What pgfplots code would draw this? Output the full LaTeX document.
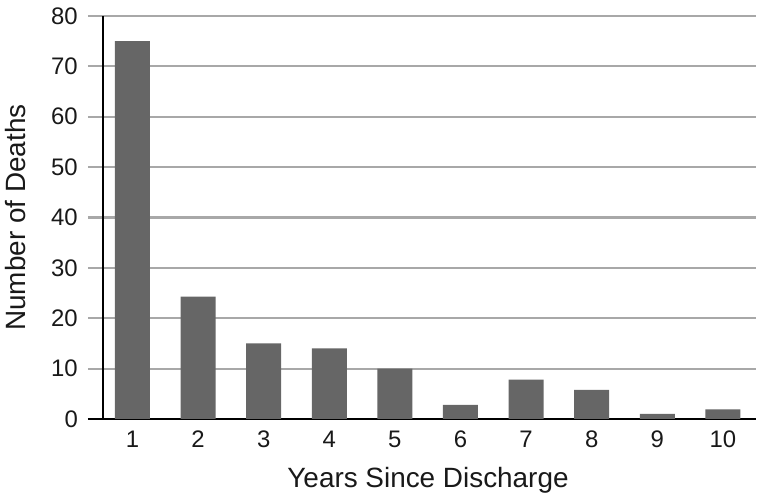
\documentclass[border=0pt]{standalone}
\usepackage{fontspec}
\setmainfont{Liberation Sans}
\usepackage{pgfplots}
\pgfplotsset{compat=1.18}
\definecolor{barGray}{HTML}{666666}
\definecolor{gridGray}{HTML}{A8A8A8}
\begin{document}
\begin{tikzpicture}
\begin{axis}[
  scale only axis, width=668bp, height=403bp,
  xmin=0.322, xmax=10.505, ymin=0, ymax=80,
  ybar, bar width=35bp,
  axis x line=bottom, axis y line=left,
  axis line style={-},
  x axis line style={black, line width=2.5bp},
  y axis line style={draw=none},
  xtick={1,...,10}, ytick={0,10,...,80},
  major tick length=0pt,
  ymajorgrids, grid style={gridGray, line width=2.2bp},
  /pgf/number format/assume math mode=true,
  tick label style={font=\fontsize{24}{28}\selectfont, text=black!90},
  xticklabel style={inner sep=0pt, anchor=north, yshift=-12bp},
  yticklabel style={inner sep=0pt, anchor=east, xshift=-10bp},
  label style={font=\fontsize{28}{32}\selectfont, text=black!90},
  xlabel={Years Since Discharge},
  xlabel style={at={(axis description cs:0.509,0)}, anchor=base, yshift=-69bp},
  ylabel={Number of Deaths},
  ylabel style={at={(axis description cs:-0.0943,0.5)}, anchor=base},
]
\addplot[fill=barGray, draw=none] coordinates {
  (1,75) (2,24.3) (3,15) (4,14) (5,10)
  (6,2.8) (7,7.8) (8,5.8) (9,1) (10,1.9)
};
\draw[black, line width=2bp] (axis cs:0.546,0) -- (axis cs:0.546,80);
\coordinate (bl) at (rel axis cs:0,0);
\coordinate (tr) at (rel axis cs:1,1);
\end{axis}
\path (bl) +(-88bp,-82bp) (tr) +(6bp,16bp);
\end{tikzpicture}
\end{document}
